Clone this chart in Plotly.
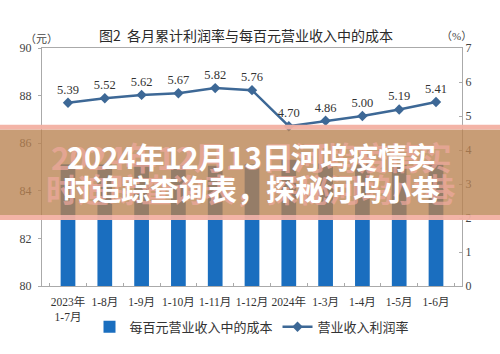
import plotly.graph_objects as go

categories = ["2023年<br>1-7月", "1-8月", "1-9月", "1-10月", "1-11月", "1-12月",
              "2024年<br>1-2月", "1-3月", "1-4月", "1-5月", "1-6月"]
cost_per_100 = [85.12, 85.10, 85.12, 85.08, 85.05, 85.10, 85.30, 85.15, 85.12, 85.08, 85.12]
profit_margin = [5.39, 5.52, 5.62, 5.67, 5.82, 5.76, 4.70, 4.86, 5.00, 5.19, 5.41]
left_ticks = [80, 82, 84, 86, 88, 90]
right_ticks = [0, 1, 2, 3, 4, 5, 6, 7]

W, H = 500, 354
L, R, T, B = 42, 38, 48, 61
PW, PH = W - L - R, H - T - B

def px(x):
    return (x - L) / PW

def py(y):
    return (H - B - y) / PH

SERIF = "Liberation Serif, Noto Sans CJK SC"
CJK = "Noto Sans CJK SC"

fig = go.Figure()
fig.add_trace(go.Bar(
    x=categories, y=cost_per_100, name="每百元营业收入中的成本",
    marker=dict(color="#1a6ebf", line=dict(width=0)), width=0.4, yaxis="y"))
fig.add_trace(go.Scatter(
    x=categories, y=profit_margin, name="营业收入利润率", yaxis="y2",
    mode="lines+markers+text", text=[f"{v:.2f}" for v in profit_margin],
    textposition="top center", textfont=dict(family=SERIF, size=12.5, color="#333"),
    line=dict(color="#3d6896", width=2.5),
    marker=dict(symbol="diamond", size=8, color="#3d6896")))

# decorative overlay band
shapes = [
    dict(type="rect", xref="paper", yref="paper", x0=px(0), x1=px(W), y0=py(220), y1=py(132),
         fillcolor="rgba(185,130,80,0.78)", line=dict(width=0), layer="above"),
    dict(type="rect", xref="paper", yref="paper", x0=px(0), x1=px(W), y0=py(132), y1=py(127),
         fillcolor="rgba(242,176,162,0.95)", line=dict(width=0), layer="above"),
    dict(type="rect", xref="paper", yref="paper", x0=px(0), x1=px(W), y0=py(225), y1=py(220),
         fillcolor="rgba(242,176,162,0.95)", line=dict(width=0), layer="above"),
]

line1 = "2024年12月13日河坞疫情实"
line2 = "时追踪查询表，探秘河坞小巷"
annotations = [
    dict(text="图2  各月累计利润率与每百元营业收入中的成本", xref="paper", yref="paper",
         x=px(246), y=py(22), showarrow=False, font=dict(family=CJK, size=14, color="#2a2a2a")),
    dict(text="（元）", xref="paper", yref="paper", x=px(24), y=py(28), showarrow=False,
         font=dict(family=CJK, size=11, color="#444"), borderpad=0),
    dict(text="（%）", xref="paper", yref="paper", x=px(473), y=py(28), showarrow=False,
         font=dict(family=SERIF, size=11, color="#444"), borderpad=0),
]
for txt, yy in [(line1, 159), (line2, 192)]:
    annotations.append(dict(text=txt, xref="paper", yref="paper", x=px(251), y=py(yy),
                            showarrow=False,
                            font=dict(family=CJK, size=31.5, color="rgba(240,170,160,0.7)", weight=700)))
for txt, yy in [(line1, 159), (line2, 192)]:
    annotations.append(dict(text=txt, xref="paper", yref="paper", x=px(251), y=py(yy),
                            showarrow=False,
                            font=dict(family=CJK, size=29, color="white", weight=700)))

fig.update_layout(
    width=W, height=H, margin=dict(l=L, r=R, t=T, b=B),
    paper_bgcolor="white", plot_bgcolor="white",
    bargap=0.6, showlegend=True,
    legend=dict(orientation="h", x=0.5, xanchor="center", y=py(335), yanchor="middle",
                font=dict(family=SERIF, size=13, color="#333"), itemwidth=30,
                traceorder="normal"),
    xaxis=dict(showline=True, linecolor="#aaa", linewidth=1, mirror=True,
               ticks="inside", ticklen=3, tickcolor="#aaa", tickson="boundaries",
               tickangle=0, ticklabelstandoff=5,
               tickfont=dict(family=SERIF, size=11.5, color="#333"), showgrid=False),
    yaxis=dict(range=[80, 90], tickvals=left_ticks, showline=True, linecolor="#aaa",
               ticks="outside", ticklen=3, tickcolor="#aaa", showgrid=False, zeroline=False,
               ticklabelstandoff=4,
               tickfont=dict(family=SERIF, size=12, color="#444")),
    yaxis2=dict(range=[0, 7], tickvals=right_ticks, overlaying="y", side="right",
                showline=True, linecolor="#aaa", ticks="inside", ticklen=3, tickcolor="#aaa",
                showgrid=False, zeroline=False,
                tickfont=dict(family=SERIF, size=12, color="#444")),
    shapes=shapes, annotations=annotations,
)

fig.write_html("out.html")
